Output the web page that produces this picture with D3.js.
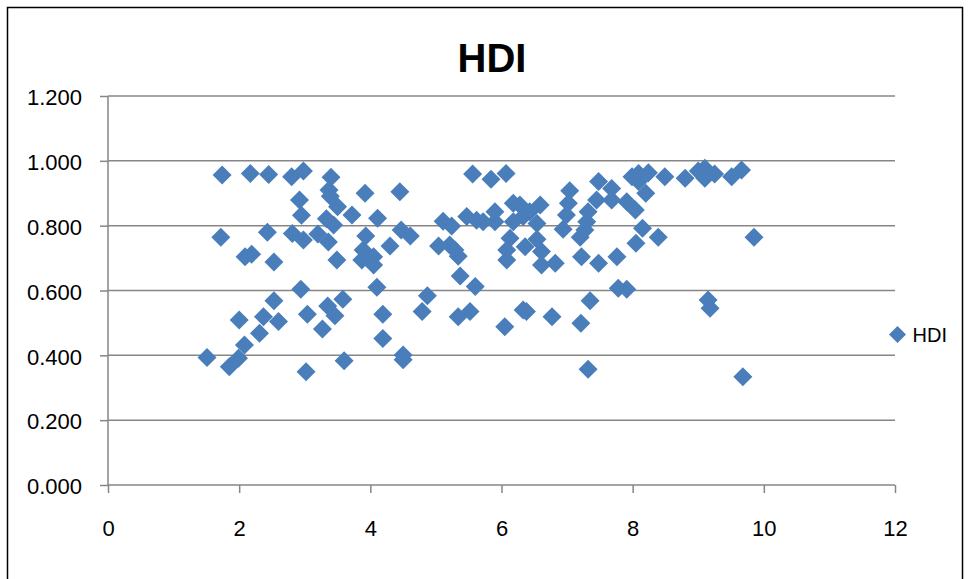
<!DOCTYPE html>
<html>
<head>
<meta charset="utf-8">
<script src="https://cdn.jsdelivr.net/npm/d3@7"></script>
<style>
  html, body { margin: 0; padding: 0; background: #ffffff; }
  svg { display: block; }
  text { font-family: "Liberation Sans", Arial, sans-serif; fill: #000; }
</style>
</head>
<body>
<svg id="chart" width="969" height="579"></svg>
<script>
// ---- data ----
const chartTitle = "HDI";
const seriesName = "HDI";
const xTicks = [0, 2, 4, 6, 8, 10, 12];
const yTicks = [0, 0.2, 0.4, 0.6, 0.8, 1.0, 1.2];

const xValues = [
  1.51, 1.85, 1.99, 2.08, 2.00, 2.31, 2.37, 2.60, 2.53, 2.94, 3.04, 3.27, 3.35, 3.46, 3.02,
  1.74, 2.17, 2.45, 2.80, 2.98, 3.40, 3.37, 3.39, 2.92, 2.95, 3.33, 3.44, 3.50,
  1.72, 2.43, 2.81, 2.98, 3.20, 3.36, 2.09, 2.19, 2.53, 3.49,
  3.72, 3.92, 4.45, 4.11, 5.56, 4.47, 4.61, 3.93, 4.30, 3.89, 3.87, 4.05, 4.05,
  5.11, 5.24, 5.47, 5.62, 5.04, 5.21, 5.29, 5.34, 5.37, 5.60,
  3.58, 4.10, 4.87, 4.79, 4.19, 4.19, 5.34, 5.52, 3.60, 4.50, 4.50,
  5.84, 6.07, 7.04, 7.48, 7.68, 7.68, 7.45, 7.02, 7.32, 6.99, 7.30, 7.27, 6.94, 7.20,
  6.18, 6.28, 6.59, 6.43, 6.18, 6.33, 6.54, 5.72, 5.90, 5.90,
  6.13, 6.54, 6.36, 6.08, 6.61, 6.08, 6.61, 6.82, 7.22, 7.48, 7.76,
  6.33, 6.38, 6.05, 6.77, 7.21, 7.35, 7.78, 7.32,
  7.99, 8.09, 8.09, 8.24, 8.49, 8.80, 9.00, 9.10, 9.10, 9.25, 9.51, 9.66,
  7.91, 8.04, 8.20, 8.15, 8.39, 8.05, 9.85, 7.91, 9.15, 9.18, 9.68
];
const hdiValues = [
  0.393, 0.365, 0.391, 0.432, 0.509, 0.468, 0.519, 0.504, 0.568, 0.604, 0.527, 0.481, 0.552, 0.522, 0.349,
  0.956, 0.961, 0.958, 0.951, 0.969, 0.949, 0.910, 0.891, 0.879, 0.832, 0.821, 0.802, 0.858,
  0.764, 0.780, 0.776, 0.756, 0.774, 0.750, 0.704, 0.712, 0.688, 0.694,
  0.833, 0.900, 0.905, 0.823, 0.959, 0.787, 0.768, 0.768, 0.737, 0.725, 0.694, 0.704, 0.679,
  0.814, 0.799, 0.828, 0.817, 0.737, 0.740, 0.725, 0.706, 0.645, 0.612,
  0.573, 0.610, 0.584, 0.535, 0.527, 0.452, 0.519, 0.535, 0.383, 0.401, 0.386,
  0.943, 0.961, 0.908, 0.936, 0.915, 0.879, 0.879, 0.869, 0.843, 0.833, 0.812, 0.787, 0.789, 0.764,
  0.869, 0.864, 0.864, 0.843, 0.812, 0.828, 0.807, 0.812, 0.843, 0.812,
  0.761, 0.758, 0.735, 0.725, 0.720, 0.694, 0.679, 0.684, 0.704, 0.684, 0.704,
  0.540, 0.535, 0.488, 0.519, 0.499, 0.568, 0.607, 0.357,
  0.951, 0.961, 0.936, 0.963, 0.951, 0.946, 0.969, 0.977, 0.946, 0.959, 0.951, 0.972,
  0.874, 0.848, 0.900, 0.792, 0.764, 0.746, 0.764, 0.604, 0.571, 0.545, 0.334
];

// ---- drawing ----
const svg = d3.select("#chart");
const W = 969, H = 579;
const plot = { left: 108, right: 895, top: 96, bottom: 485 };
const gridColor = "#868686";
const markColor = "#4a7ebb";

svg.append("rect").attr("width", W).attr("height", H).attr("fill", "#fff");
// outer chart border
svg.append("rect")
  .attr("x", 7.5).attr("y", 7.5)
  .attr("width", 955).attr("height", 620)
  .attr("fill", "none").attr("stroke", "#000").attr("stroke-width", 1.5);

const x = d3.scaleLinear().domain([0, 12]).range([plot.left, plot.right]);
const y = d3.scaleLinear().domain([0, 1.2]).range([plot.bottom, plot.top]);

// horizontal gridlines
svg.append("g").selectAll("line").data(yTicks).join("line")
  .attr("x1", plot.left).attr("x2", plot.right)
  .attr("y1", d => y(d)).attr("y2", d => y(d))
  .attr("stroke", gridColor).attr("stroke-width", 1.5);

// y axis
const yAxis = svg.append("g")
  .attr("transform", `translate(${plot.left},0)`)
  .call(d3.axisLeft(y).tickValues(yTicks).tickSize(8).tickPadding(18).tickFormat(d3.format(".3f")));
yAxis.select(".domain").remove();
yAxis.selectAll(".tick line").attr("stroke", gridColor).attr("stroke-width", 1.5);
yAxis.selectAll(".tick text").attr("font-size", 22).attr("font-family", "Liberation Sans, Arial, sans-serif").attr("dy", "0.4em");
yAxis.append("line")
  .attr("x1", 0).attr("x2", 0).attr("y1", plot.top).attr("y2", plot.bottom)
  .attr("stroke", gridColor).attr("stroke-width", 1.5);

// x axis
const xAxis = svg.append("g")
  .attr("transform", `translate(0,${plot.bottom})`)
  .call(d3.axisBottom(x).tickValues(xTicks).tickSize(8).tickPadding(27).tickFormat(d3.format("d")));
xAxis.select(".domain").remove();
xAxis.selectAll(".tick line").attr("stroke", gridColor).attr("stroke-width", 1.5);
xAxis.selectAll(".tick text").attr("font-size", 22).attr("font-family", "Liberation Sans, Arial, sans-serif");

// diamond marker path
const diamond = r => `M0,${-r}L${r},0L0,${r}L${-r},0Z`;

// points
svg.append("g").selectAll("path").data(xValues.map((v, i) => [v, hdiValues[i]])).join("path")
  .attr("d", diamond(9.5))
  .attr("transform", d => `translate(${x(d[0])},${y(d[1])})`)
  .attr("fill", markColor);

// title
svg.append("text")
  .attr("x", 492).attr("y", 72)
  .attr("text-anchor", "middle")
  .attr("font-size", 40).attr("font-weight", "bold")
  .text(chartTitle);

// legend
const lg = svg.append("g").attr("transform", "translate(897.5,334.5)");
lg.append("path").attr("d", diamond(8.5)).attr("fill", markColor);
lg.append("text").attr("x", 15).attr("y", 7).attr("font-size", 20).text(seriesName);
</script>
</body>
</html>
